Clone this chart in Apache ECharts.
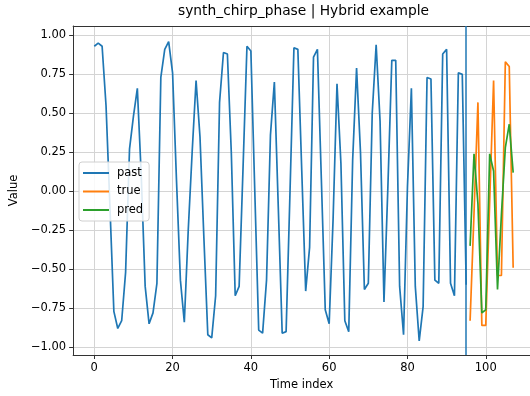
<!DOCTYPE html>
<html>
<head>
<meta charset="utf-8">
<title>synth_chirp_phase | Hybrid example</title>
<script src="https://cdn.jsdelivr.net/npm/echarts@6.0.0/dist/echarts.min.js"></script>
<style>
  html, body { margin: 0; padding: 0; background: #fff; }
  #chart { width: 530px; height: 396px; }
</style>
</head>
<body>
<div id="chart"></div>
<script>
// observed history, index 0..95
var pastValues = [
  0.93, 0.95, 0.93, 0.55, -0.10, -0.77, -0.88, -0.83, -0.52, 0.27,
  0.48, 0.66, 0.10, -0.61, -0.85, -0.78, -0.59, 0.73, 0.91, 0.96,
  0.76, 0.07, -0.57, -0.84, -0.25, 0.25, 0.71, 0.35, -0.30, -0.92,
  -0.94, -0.67, 0.57, 0.89, 0.88, 0.25, -0.67, -0.61, 0.15, 0.93,
  0.90, 0.00, -0.89, -0.91, -0.57, 0.36, 0.70, -0.10, -0.91, -0.90,
  0.00, 0.92, 0.91, 0.13, -0.64, -0.36, 0.86, 0.91, 0.08, -0.76,
  -0.85, -0.18, 0.69, 0.18, -0.83, -0.90, 0.20, 0.79, 0.25, -0.63,
  -0.59, 0.50, 0.94, 0.45, -0.71, 0.03, 0.84, 0.84, -0.61, -0.92,
  0.03, 0.66, -0.61, -0.96, -0.74, 0.73, 0.72, -0.57, -0.59, 0.88,
  0.91, -0.59, -0.67, 0.76, 0.75, -0.60
];
// horizon, index 96..107
var trueValues = [-0.83, -0.14, 0.57, -0.86, -0.86, -0.07, 0.71, -0.54, -0.54, 0.83, 0.80, -0.49];
var predValues = [-0.35, 0.24, -0.08, -0.78, -0.76, 0.24, 0.13, -0.63, -0.15, 0.28, 0.43, 0.12];

var pastStart = 0;
var futureStart = 96;
var cutoff = 95;

var xTicks = [0, 20, 40, 60, 80, 100];
var yTicks = [-1, -0.75, -0.5, -0.25, 0, 0.25, 0.5, 0.75, 1];

function withIndex(values, start) {
  return values.map(function (v, k) { return [start + k, v]; });
}

function fmtY(v) {
  var s = Math.abs(v).toFixed(2);
  return v < 0 ? '\u2212' + s : s;
}

var font = 'DejaVu Sans';
var spine = '#333';
var gridLine = '#d4d4d4';
var xMin = -5.4, xMax = 111.3;
var chart = echarts.init(document.getElementById('chart'));

var option = {
  animation: false,
  backgroundColor: '#fff',
  title: {
    text: 'synth_chirp_phase | Hybrid example',
    left: 178,
    top: 4,
    padding: 0,
    textStyle: { fontFamily: font, fontSize: 13.8, fontWeight: 'normal', color: '#000' }
  },
  legend: {
    data: ['past', 'true', 'pred'],
    orient: 'vertical',
    left: 79,
    top: 162,
    padding: [5, 6, 5, 4],
    itemGap: 6.5,
    itemWidth: 26,
    itemHeight: 2,
    icon: 'rect',
    backgroundColor: 'rgba(255,255,255,0.85)',
    borderColor: '#d0d0d0',
    borderWidth: 1,
    borderRadius: 3,
    textStyle: { fontFamily: font, fontSize: 11.5, color: '#000', padding: [0, 0, 0, 3] }
  },
  grid: {
    left: 73,
    right: 0,
    top: 26,
    bottom: 41,
    containLabel: false
  },
  xAxis: [
    {
      type: 'value',
      min: xMin,
      max: xMax,
      name: 'Time index',
      nameLocation: 'middle',
      nameGap: 22,
      nameTextStyle: { fontFamily: font, fontSize: 11.5, color: '#000' },
      axisLine: { show: true, onZero: false, lineStyle: { color: spine, width: 1 } },
      axisTick: { show: true, length: 4, customValues: xTicks, lineStyle: { color: spine } },
      axisLabel: { customValues: xTicks, margin: 7, fontFamily: font, fontSize: 11.5, color: '#000' },
      splitLine: { show: true, lineStyle: { color: gridLine, width: 1 } }
    },
    {
      // top spine only
      type: 'value',
      position: 'top',
      min: xMin,
      max: xMax,
      axisLine: { show: true, onZero: false, lineStyle: { color: spine, width: 1 } },
      axisTick: { show: false },
      axisLabel: { show: false },
      splitLine: { show: false }
    }
  ],
  yAxis: {
    type: 'value',
    min: -1.05,
    max: 1.06,
    name: 'Value',
    nameLocation: 'middle',
    nameGap: 45,
    nameTextStyle: { fontFamily: font, fontSize: 11.5, color: '#000' },
    axisLine: { show: true, onZero: false, lineStyle: { color: spine, width: 1 } },
    axisTick: { show: true, length: 4, customValues: yTicks, lineStyle: { color: spine } },
    axisLabel: { customValues: yTicks, margin: 7, formatter: fmtY, fontFamily: font, fontSize: 11.5, color: '#000' },
    splitLine: { show: true, lineStyle: { color: gridLine, width: 1 } }
  },
  series: [
    {
      name: 'past',
      type: 'line',
      data: withIndex(pastValues, pastStart),
      symbol: 'none',
      lineStyle: { color: '#1f77b4', width: 1.7 },
      itemStyle: { color: '#1f77b4' },
      markLine: {
        silent: true,
        symbol: 'none',
        label: { show: false },
        lineStyle: { color: '#1f77b4', width: 1.5, type: 'solid' },
        data: [{ xAxis: cutoff }]
      }
    },
    {
      name: 'true',
      type: 'line',
      data: withIndex(trueValues, futureStart),
      symbol: 'none',
      lineStyle: { color: '#ff7f0e', width: 1.7 },
      itemStyle: { color: '#ff7f0e' }
    },
    {
      name: 'pred',
      type: 'line',
      data: withIndex(predValues, futureStart),
      symbol: 'none',
      lineStyle: { color: '#2ca02c', width: 1.7 },
      itemStyle: { color: '#2ca02c' }
    }
  ]
};

chart.setOption(option);
</script>
</body>
</html>
